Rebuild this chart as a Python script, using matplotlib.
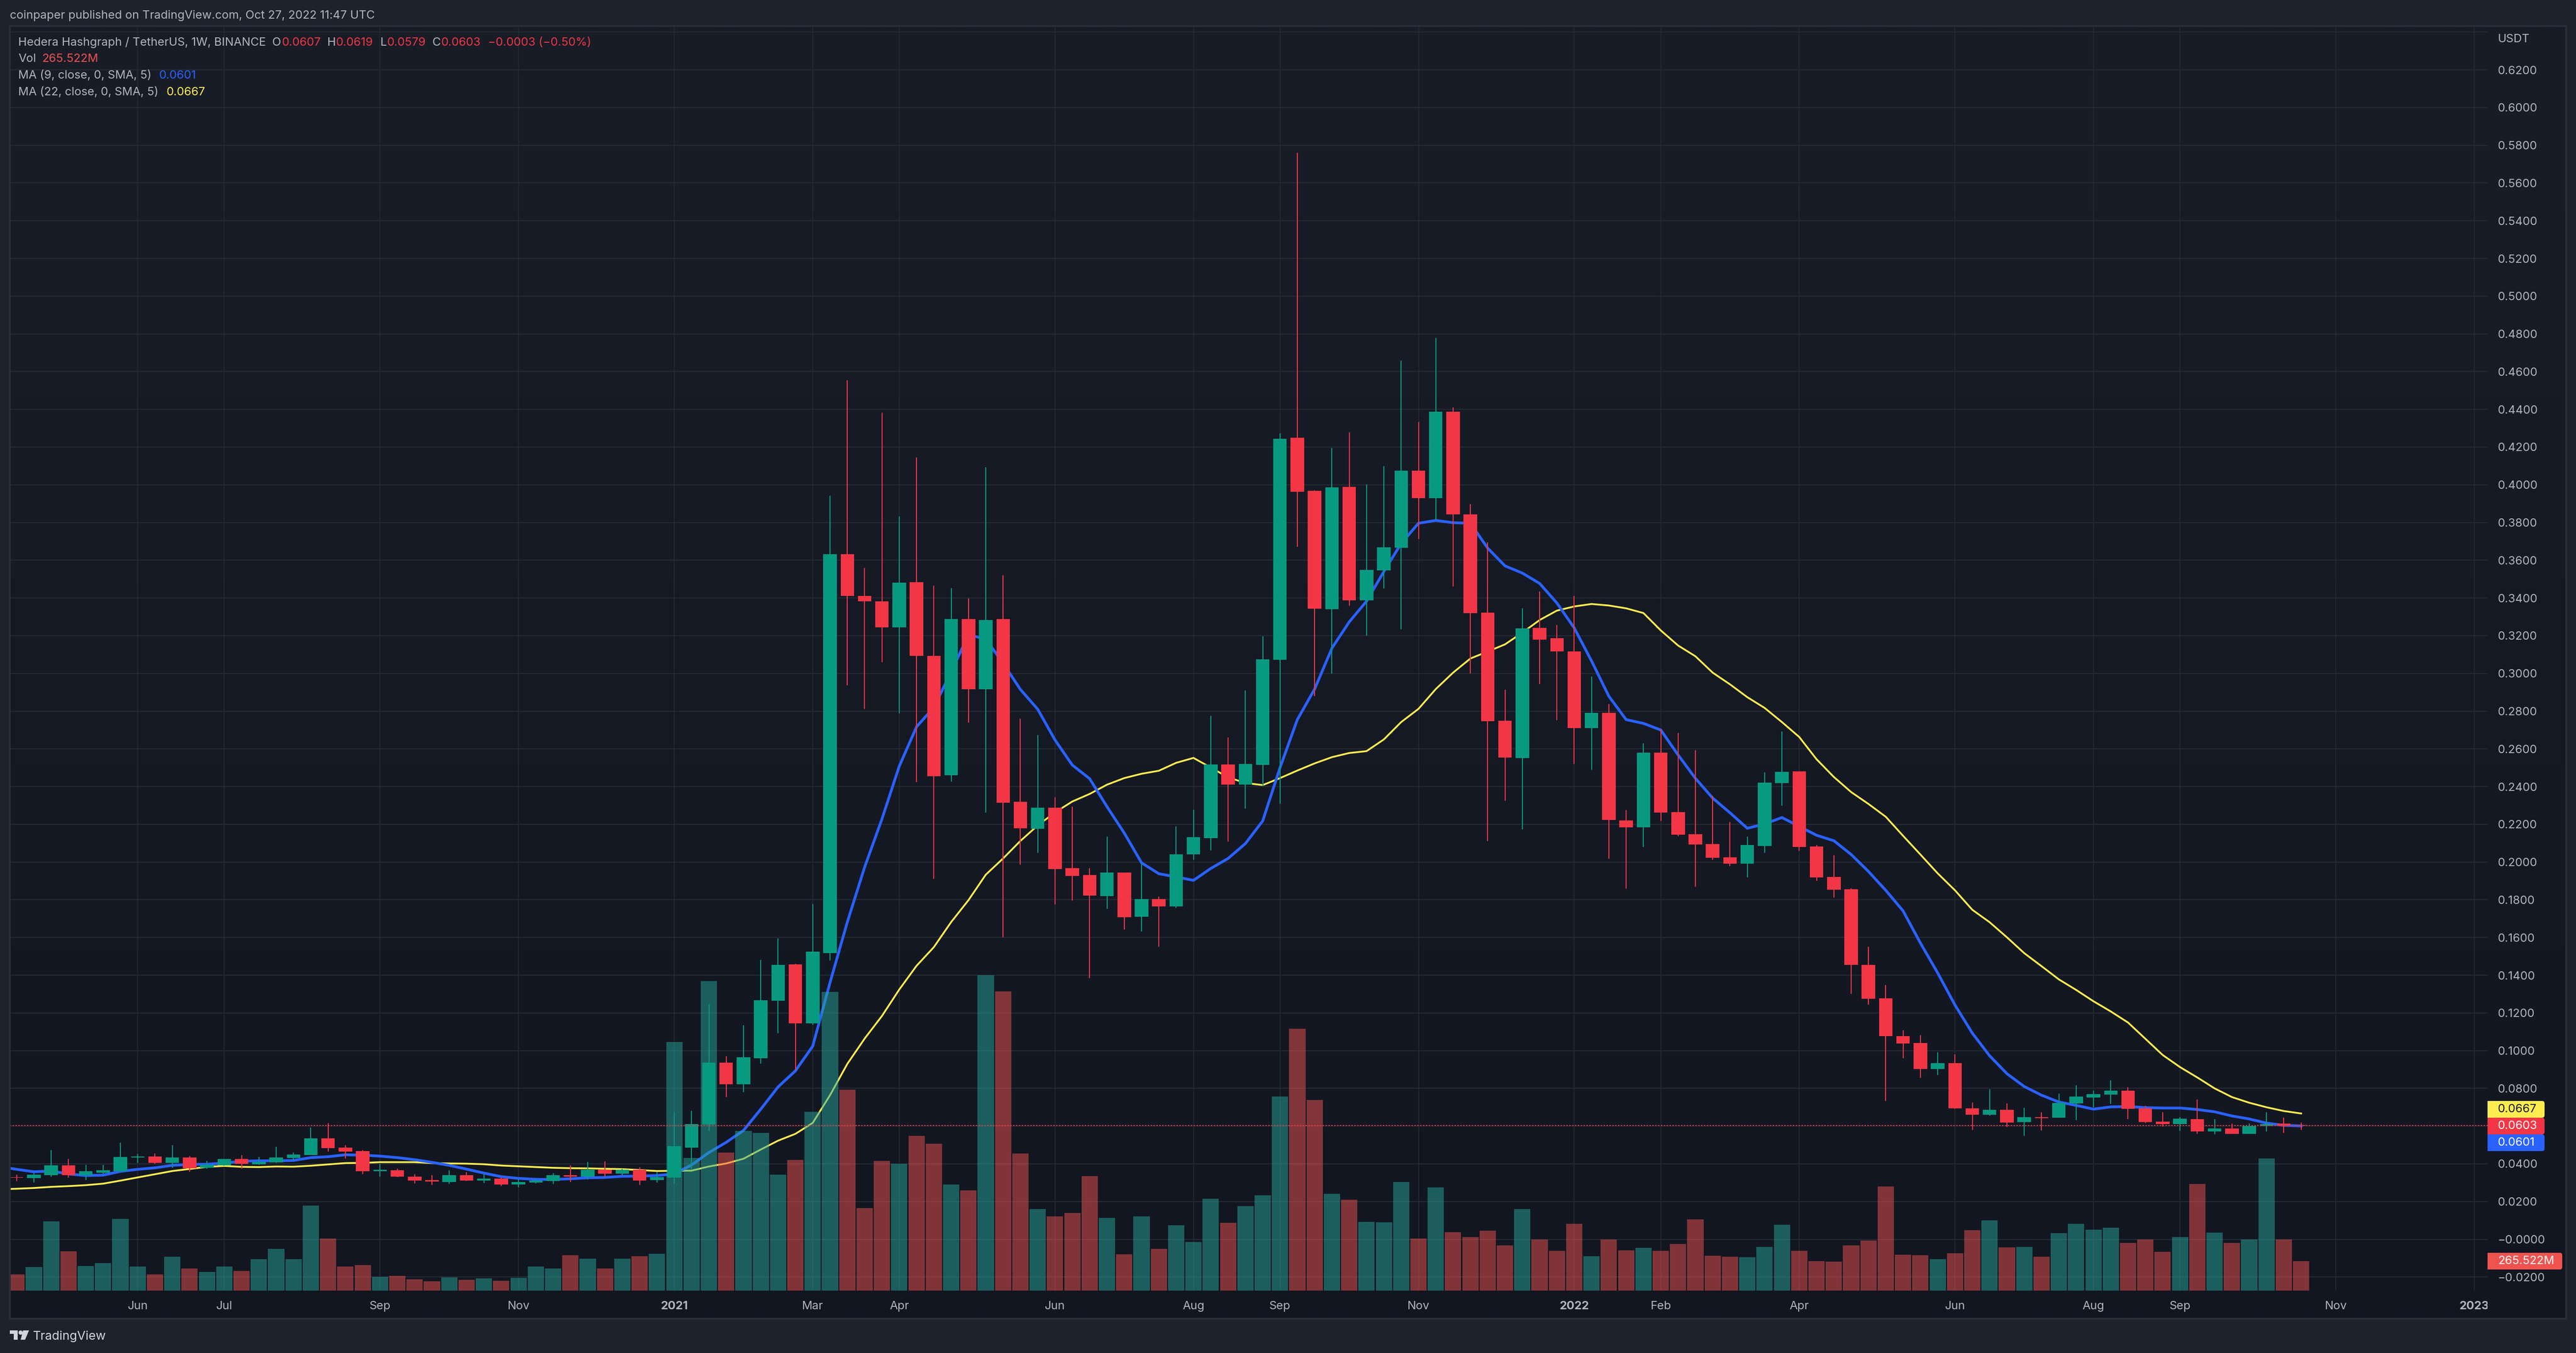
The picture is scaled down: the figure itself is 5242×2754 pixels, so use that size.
import matplotlib
matplotlib.use("Agg")
import matplotlib.pyplot as plt
from matplotlib.patches import Circle, FancyBboxPatch, Polygon, Rectangle
from matplotlib.transforms import Bbox
import numpy as np

WIDTH, HEIGHT = 5242, 2754
PANE_LEFT, PANE_RIGHT, PANE_TOP, PANE_BOTTOM = 20, 5062, 53, 2627
FRAME_RIGHT, FRAME_BOTTOM = 5222, 2684

BG_OUTER = "#1E222D"
BORDER = "#2A2E39"
GRID = "#252934"
TEXT = "#B2B5BE"
UP = "#089981"
DOWN = "#F23645"
VOL_UP = "#26A69A"
VOL_DOWN = "#EF5350"
BLUE = "#2962FF"
YELLOW = "#FFED4F"

weeks = list(range(-38, 95))
ma_weeks = list(range(-39, 95))

opens = [.0329, .0325, .0340, .0392, .0340, .0354, .0362, .0433, .0439, .0405, .0434, .0379, .0392, .0426, .0398, .0408,
         .0432, .0447, .0536, .0486, .0467, .0361, .0366, .0333, .0314, .0303, .0340, .0312, .0322, .0290, .0301, .0309,
         .0340, .0333, .0369, .0348, .0369, .0314,
         .0327, .0486, .0609, .0937, .0822, .0960, .1264, .1458, .1146, .1517,
         .3633, .3410, .3382, .3245, .3484, .3094, .2461, .3289, .2917, .3289,
         .2319, .2177, .2287, .1968, .1931, .1819, .1945, .1710, .1803, .1766,
         .2040, .2128, .2517, .2410, .2515, .3073, .4250, .3968, .3340, .3988,
         .3388, .3547, .3667, .4076, .3929, .4387, .3844, .3323, .2750, .2550,
         .3241, .3186, .3116, .2710, .2790, .2221, .2184, .2580, .2264, .2148,
         .2096, .2025, .1992, .2085, .2419, .2481, .2083, .1921, .1856, .1456,
         .1278, .1077, .1041, .0903, .0934, .0694, .0661, .0687, .0622, .0647,
         .0644, .0721, .0752, .0768, .0788, .0694, .0624, .0611, .0637, .0572,
         .0588, .0559, .0600, .0614, .0607]

highs = [.0343, .0351, .0473, .0426, .0395, .0395, .0512, .0451, .0454, .0499, .0441, .0416, .0426, .0446, .0437, .0491,
         .0460, .0592, .0616, .0499, .0473, .0399, .0373, .0346, .0340, .0366, .0355, .0344, .0327, .0321, .0318, .0351,
         .0392, .0411, .0413, .0375, .0382, .0357,
         .0674, .0681, .1247, .0971, .1135, .1481, .1596, .1460, .1777, .3942,
         .4554, .3559, .4382, .3833, .4145, .3466, .3452, .3398, .4094, .3519,
         .2759, .2673, .2342, .2294, .1968, .2135, .1945, .1994, .1817, .2189,
         .2277, .2775, .2661, .2910, .3198, .4273, .5760, .3971, .4195, .4277,
         .4001, .4098, .4659, .4332, .4778, .4412, .3899, .3694, .2914, .3345,
         .3433, .3256, .3410, .2984, .2837, .2275, .2630, .2705, .2685, .2593,
         .2351, .2213, .2135, .2476, .2693, .2481, .2090, .2036, .1861, .1551,
         .1348, .1109, .1083, .0991, .0981, .0726, .0795, .0720, .0697, .0674,
         .0773, .0817, .0788, .0843, .0806, .0707, .0674, .0648, .0741, .0637,
         .0614, .0614, .0674, .0645, .0619]

lows = [.0308, .0301, .0333, .0326, .0313, .0349, .0359, .0405, .0399, .0380, .0359, .0375, .0389, .0375, .0395, .0405,
        .0416, .0447, .0465, .0429, .0346, .0333, .0329, .0295, .0288, .0294, .0308, .0299, .0283, .0275, .0297, .0294,
        .0304, .0316, .0331, .0340, .0289, .0301,
        .0296, .0372, .0574, .0753, .0780, .0930, .1093, .0897, .1136, .1477,
        .2936, .2812, .3059, .2789, .2424, .1910, .2426, .2740, .2261, .1601,
        .1987, .2049, .1775, .1796, .1384, .1752, .1642, .1631, .1552, .1756,
        .2012, .2061, .2108, .2282, .2403, .2310, .3672, .2879, .3000, .3358,
        .3201, .3450, .3233, .3712, .3814, .3460, .3000, .2110, .2324, .2174,
        .2944, .2752, .2521, .2488, .2018, .1859, .2080, .2219, .2136, .1870,
        .2011, .1979, .1919, .2049, .2299, .2059, .1901, .1812, .1302, .1244,
        .0734, .0959, .0856, .0872, .0692, .0579, .0654, .0596, .0549, .0577,
        .0644, .0632, .0699, .0718, .0637, .0615, .0599, .0575, .0560, .0555,
        .0559, .0558, .0571, .0564, .0579]

closes = [.0326, .0343, .0392, .0340, .0361, .0366, .0437, .0439, .0405, .0434, .0376, .0395, .0426, .0399, .0410, .0434,
          .0450, .0536, .0484, .0465, .0361, .0369, .0333, .0312, .0307, .0340, .0312, .0322, .0290, .0303, .0312, .0340,
          .0333, .0369, .0348, .0369, .0312, .0329,
          .0493, .0611, .0937, .0822, .0965, .1267, .1455, .1146, .1526, .3633,
          .3410, .3382, .3245, .3482, .3094, .2454, .3289, .2917, .3284, .2315,
          .2180, .2289, .1963, .1926, .1822, .1945, .1708, .1803, .1766, .2042,
          .2133, .2517, .2410, .2519, .3075, .4243, .3963, .3343, .3986, .3388,
          .3550, .3669, .4076, .3929, .4387, .3844, .3320, .2747, .2553, .3238,
          .3178, .3116, .2710, .2790, .2222, .2184, .2580, .2263, .2145, .2093,
          .2023, .1992, .2091, .2421, .2478, .2080, .1919, .1853, .1456, .1276,
          .1077, .1039, .0903, .0933, .0693, .0661, .0687, .0618, .0648, .0642,
          .0723, .0757, .0770, .0788, .0692, .0622, .0611, .0640, .0572, .0588,
          .0559, .0600, .0611, .0600, .0603]

# volume in millions
volumes = [148, 214, 626, 354, 222, 249, 648, 218, 148, 306, 199, 170, 218, 177, 284, 377, 281, 766, 471, 218, 231, 126,
           133, 103, 85, 120, 98, 111, 89, 116, 218, 199, 319, 288, 199, 288, 310, 332,
           2240, 1193, 2786, 1243, 1439, 1420, 1044, 1175, 1611, 2689,
           1808, 742, 1169, 1141, 1393, 1323, 955, 903, 2841, 2693,
           1234, 733, 667, 699, 1030, 653, 327, 667, 374, 588,
           438, 826, 610, 760, 858, 1747, 2357, 1715, 872, 819,
           620, 614, 978, 469, 930, 527, 483, 540, 407, 735,
           461, 358, 602, 310, 461, 364, 385, 358, 419, 642,
           314, 306, 300, 393, 592, 358, 266, 260, 407, 451,
           938, 322, 318, 284, 338, 545, 633, 390, 395, 306,
           519, 604, 550, 567, 430, 462, 351, 484, 962, 522,
           430, 462, 1191, 462, 265.522]

ma9 = [.0385, .0371, .0358, .0362, .0346, .0338, .0340, .0360, .0371, .0379, .0392, .0397, .0398, .0404, .0414, .0416, .0416,
       .0418, .0433, .0438, .0448, .0446, .0441, .0433, .0422, .0408, .0392, .0372, .0351, .0332, .0323, .0318, .0317,
       .0321, .0326, .0328, .0334, .0335, .0338,
       .0346, .0394, .0460, .0514, .0577, .0690, .0808, .0893, .1024, .1361,
       .1682, .1973, .2228, .2508, .2717, .2820, .3008, .3205, .3182, .3054,
       .2915, .2810, .2647, .2514, .2442, .2294, .2154, .1996, .1938, .1921,
       .1903, .1966, .2019, .2098, .2218, .2500, .2755, .2917, .3134, .3273,
       .3383, .3540, .3689, .3796, .3811, .3799, .3796, .3664, .3570, .3532,
       .3477, .3373, .3241, .3066, .2879, .2755, .2735, .2700, .2568, .2444,
       .2339, .2261, .2179, .2202, .2236, .2189, .2142, .2113, .2040, .1950,
       .1850, .1741, .1571, .1412, .1242, .1093, .0973, .0878, .0810, .0764,
       .0728, .0710, .0690, .0702, .0704, .0698, .0696, .0696, .0688, .0676,
       .0654, .0638, .0616, .0604, .0601]

ma22 = [.0265, .0268, .0272, .0278, .0282, .0287, .0295, .0311, .0328, .0345, .0362, .0373, .0384, .0389, .0384, .0383, .0386,
        .0385, .0390, .0397, .0404, .0405, .0409, .0409, .0409, .0404, .0402, .0401, .0398, .0391, .0387, .0383, .0379,
        .0377, .0376, .0374, .0372, .0367, .0362,
        .0363, .0364, .0386, .0402, .0427, .0476, .0523, .0559, .0617, .0764,
        .0930, .1064, .1184, .1324, .1450, .1549, .1682, .1798, .1933, .2019,
        .2112, .2194, .2263, .2321, .2361, .2410, .2445, .2468, .2484, .2526,
        .2552, .2501, .2449, .2419, .2408, .2445, .2485, .2523, .2556, .2578,
        .2588, .2650, .2742, .2812, .2917, .3004, .3079, .3116, .3154, .3216,
        .3283, .3333, .3355, .3368, .3360, .3345, .3320, .3228, .3148, .3091,
        .3004, .2942, .2874, .2817, .2742, .2663, .2545, .2451, .2371, .2308,
        .2240, .2139, .2040, .1940, .1850, .1747, .1681, .1601, .1517, .1448,
        .1378, .1322, .1262, .1208, .1149, .1063, .0977, .0913, .0858, .0800,
        .0754, .0724, .0700, .0680, .0667]

price_ticks = [round(-0.02 + 0.02 * i, 2) for i in range(34)]
time_ticks = [-31, -26, -17, -9, 0, 8, 13, 22, 30, 35, 43, 52, 57, 65, 74, 82, 87, 96, 104]
time_labels = ["Jun", "Jul", "Sep", "Nov", "2021", "Mar", "Apr", "Jun", "Aug", "Sep", "Nov", "2022", "Feb", "Apr",
               "Jun", "Aug", "Sep", "Nov", "2023"]
last_close = 0.0603

plt.rcParams["font.family"] = ["Inter", "DejaVu Sans"]


def price_label(p):
    if p > 0.63:
        return ""
    if p < 0.005:
        return "\u2212%.4f" % abs(p)
    return "%.4f" % p


def pane_axes(fig, zorder):
    rect = [PANE_LEFT / WIDTH, 1 - PANE_BOTTOM / HEIGHT,
            (PANE_RIGHT - PANE_LEFT) / WIDTH, (PANE_BOTTOM - PANE_TOP) / HEIGHT]
    ax = fig.add_axes(rect, zorder=zorder)
    ax.patch.set_visible(False)
    for spine in ax.spines.values():
        spine.set_visible(False)
    ax.set_xlim(-38.39, 104.77)
    return ax


def plot():
    fig = plt.figure(figsize=(WIDTH / 100, HEIGHT / 100), dpi=100, facecolor=BG_OUTER)

    # pane background, slightly lighter towards the top
    ax_bg = fig.add_axes([PANE_LEFT / WIDTH, 1 - FRAME_BOTTOM / HEIGHT,
                          (FRAME_RIGHT - PANE_LEFT) / WIDTH, (FRAME_BOTTOM - PANE_TOP) / HEIGHT], zorder=0)
    ax_bg.axis("off")
    top_c = np.array([25, 29, 40]) / 255
    bot_c = np.array([18, 22, 33]) / 255
    grad = np.linspace(0, 1, 256)[:, None, None] * (bot_c - top_c) + top_c
    ax_bg.imshow(grad, aspect="auto", extent=(0, 1, 0, 1), interpolation="bilinear")

    up = np.array(closes) >= np.array(opens)
    x = np.array(weeks)

    # grid and moving averages sit below the translucent volume bars
    ax = pane_axes(fig, 1)
    ax.set_ylim(-0.0272, 0.6432)
    ax.set_yticks(price_ticks)
    ax.set_yticklabels([price_label(p) for p in price_ticks])
    ax.yaxis.tick_right()
    ax.set_xticks(time_ticks)
    ax.set_xticklabels(time_labels)
    ax.tick_params(axis="y", length=0, pad=15, labelsize=17, labelcolor=TEXT)
    ax.tick_params(axis="x", length=0, pad=15, labelsize=17, labelcolor=TEXT)
    ax.grid(axis="y", color=GRID, linewidth=1.6)
    ax.grid(axis="x", color=GRID, linewidth=1.3)
    ax.set_axisbelow(True)
    for lbl in ax.get_xticklabels():
        if lbl.get_text() in ("2021", "2022", "2023"):
            lbl.set_fontweight("bold")
        lbl.set_clip_box(Bbox([[0, 0], [PANE_RIGHT, HEIGHT]]))
        lbl.set_clip_on(True)
    ax.plot(ma_weeks, ma22, color=YELLOW, linewidth=2.6, solid_joinstyle="round")
    ax.plot(ma_weeks, ma9, color=BLUE, linewidth=4.0, solid_joinstyle="round")

    ax_vol = pane_axes(fig, 2)
    ax_vol.set_ylim(0, 11390)
    ax_vol.set_xticks([])
    ax_vol.set_yticks([])
    ax_vol.bar(x, volumes, width=0.94, color=[VOL_UP if u else VOL_DOWN for u in up], alpha=0.5, linewidth=0)

    ax_c = pane_axes(fig, 3)
    ax_c.set_ylim(-0.0272, 0.6432)
    ax_c.set_xticks([])
    ax_c.set_yticks([])
    colors = [UP if u else DOWN for u in up]
    ax_c.vlines(x, lows, highs, colors=colors, linewidth=1.5)
    body_low = np.minimum(opens, closes)
    body_high = np.maximum(opens, closes)
    ax_c.bar(x, body_high - body_low, bottom=body_low, width=0.78, color=colors, linewidth=0)
    ax_c.axhline(last_close, color=DOWN, linewidth=1.4, linestyle=(0, (1.4, 1.6)))

    # frame, texts and price labels in pixel coordinates
    over = fig.add_axes([0, 0, 1, 1], zorder=4)
    over.patch.set_visible(False)
    over.axis("off")
    over.set_xlim(0, WIDTH)
    over.set_ylim(HEIGHT, 0)

    over.add_patch(Rectangle((PANE_LEFT, PANE_TOP), FRAME_RIGHT - PANE_LEFT, FRAME_BOTTOM - PANE_TOP,
                             fill=False, edgecolor=BORDER, linewidth=2.6))

    def label(px, py, s, color=TEXT, size=17, **kw):
        over.text(px, py, s, color=color, fontsize=size, va="center", ha="left", **kw)

    label(20, 32, "coinpaper published on TradingView.com, Oct 27, 2022 11:47 UTC")
    label(37, 87, "Hedera Hashgraph / TetherUS, 1W, BINANCE")
    for px, s in [(554, "O"), (666, "H"), (774, "L"), (880, "C")]:
        label(px, 87, s)
    for px, s in [(574, "0.0607"), (684, "0.0619"), (788, "0.0579"), (898, "0.0603"), (993, "\u22120.0003 (\u22120.50%)")]:
        label(px, 87, s, color=DOWN)
    label(37, 120, "Vol")
    label(85, 120, "265.522M", color=VOL_DOWN)
    label(37, 154, "MA (9, close, 0, SMA, 5)")
    label(324, 154, "0.0601", color=BLUE)
    label(37, 188, "MA (22, close, 0, SMA, 5)")
    label(339, 188, "0.0667", color=YELLOW)
    label(5083, 80, "USDT")

    for top, bottom, right, fill, ink, s in [(2241, 2275, 5178, YELLOW, "#131722", "0.0667"),
                                             (2275, 2309, 5178, DOWN, "white", "0.0603"),
                                             (2309, 2343, 5178, BLUE, "white", "0.0601"),
                                             (2550, 2584, 5214, VOL_DOWN, "white", "265.522M")]:
        over.add_patch(FancyBboxPatch((PANE_RIGHT, top), right - PANE_RIGHT, bottom - top,
                                      boxstyle="round,pad=0,rounding_size=5", facecolor=fill, edgecolor="none"))
        over.add_patch(Rectangle((PANE_RIGHT, top), 20, bottom - top, facecolor=fill, edgecolor="none"))
        label(5083, (top + bottom) / 2, s, color=ink)

    # TradingView logo and wordmark
    logo = "#D1D4DC"
    over.add_patch(Polygon([(20, 2708), (36, 2708), (36, 2727), (28, 2727), (28, 2715), (20, 2715)], facecolor=logo, edgecolor="none"))
    over.add_patch(Circle((42, 2712.5), 4.3, facecolor=logo, edgecolor="none"))
    over.add_patch(Polygon([(47, 2708), (59, 2708), (51, 2727), (42, 2727)], facecolor=logo, edgecolor="none"))
    label(67, 2720, "TradingView", color=logo, size=18)

    fig.savefig("out.png", dpi=100, facecolor=BG_OUTER)


def main():
    plot()


if __name__ == "__main__":
    main()
